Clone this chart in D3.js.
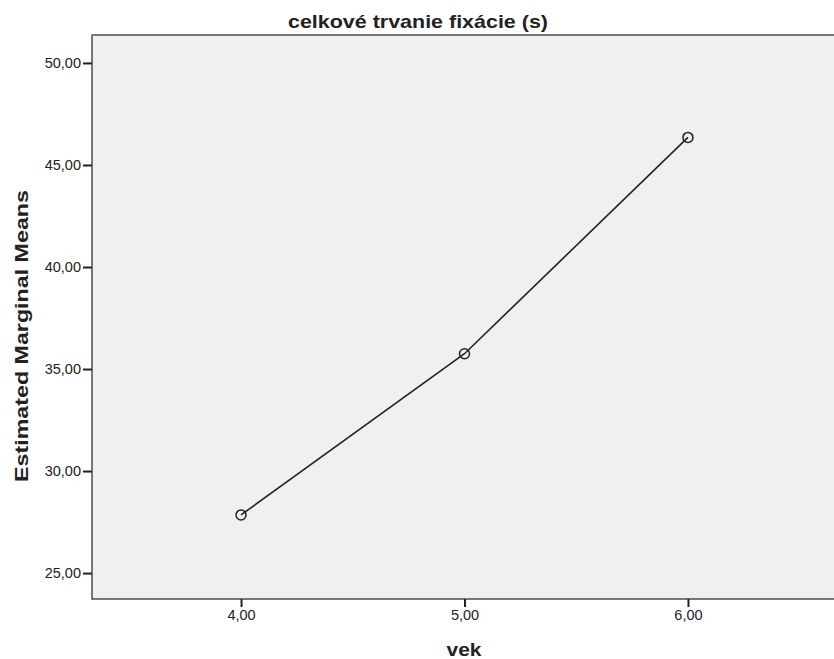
<!DOCTYPE html>
<html>
<head>
<meta charset="utf-8">
<script src="https://cdn.jsdelivr.net/npm/d3@7"></script>
<style>
  body { margin: 0; background: #fff; }
  text { font-family: "Liberation Sans", Arial, sans-serif; fill: #222; }
</style>
</head>
<body>
<svg id="chart" width="834" height="659"></svg>
<script>
// data
const ages = [4, 5, 6];
const means = [27.85, 35.75, 46.35];
const yTicks = [25, 30, 35, 40, 45, 50];

const svg = d3.select("#chart");
const margin = { left: 92, top: 35, right: -3, bottom: 60 };
const W = 834, H = 659;

const x = d3.scaleLinear().domain([3.333, 6.667]).range([margin.left, W - margin.right]);
const y = d3.scaleLinear().domain([23.73, 51.37]).range([H - margin.bottom, margin.top]);
const fmt = d => d3.format(".2f")(d).replace(".", ",");

// plot background
svg.append("rect")
  .attr("x", margin.left).attr("y", margin.top)
  .attr("width", W - margin.right - margin.left)
  .attr("height", H - margin.bottom - margin.top)
  .attr("fill", "#f0f0f0")
  .attr("stroke", "#222").attr("stroke-width", 1.2);
svg.append("line")
  .attr("x1", margin.left).attr("x2", W)
  .attr("y1", margin.top).attr("y2", margin.top)
  .attr("stroke", "#777").attr("stroke-width", 2);

// axes
const yAxis = svg.append("g")
  .attr("transform", `translate(${margin.left},0)`)
  .call(d3.axisLeft(y).tickValues(yTicks).tickFormat(fmt).tickSize(9).tickPadding(2));
const xAxis = svg.append("g")
  .attr("transform", `translate(0,${H - margin.bottom})`)
  .call(d3.axisBottom(x).tickValues(ages).tickFormat(fmt).tickSize(8).tickPadding(3));
[yAxis, xAxis].forEach(g => {
  g.select(".domain").remove();
  g.selectAll(".tick line").attr("stroke", "#222").attr("stroke-width", 2);
  g.selectAll(".tick text").attr("font-size", 14.5).style("fill", "#222");
});

// line + markers
svg.append("path")
  .datum(ages.map((a, i) => [a, means[i]]))
  .attr("fill", "none").attr("stroke", "#222").attr("stroke-width", 1.6)
  .attr("d", d3.line().x(d => x(d[0])).y(d => y(d[1])));
svg.selectAll(".pt")
  .data(ages.map((a, i) => [a, means[i]]))
  .enter().append("circle")
  .attr("class", "pt")
  .attr("cx", d => x(d[0])).attr("cy", d => y(d[1])).attr("r", 5)
  .attr("fill", "none").attr("stroke", "#222").attr("stroke-width", 1.5);

// titles (glyphs stretched a bit, SPSS fonts run wide)
svg.append("text").attr("x", 418).attr("y", 28).attr("text-anchor", "middle")
  .attr("font-size", 19).attr("font-weight", "bold")
  .attr("textLength", 260).attr("lengthAdjust", "spacingAndGlyphs")
  .text("celkové trvanie fixácie (s)");
svg.append("text").attr("x", 464).attr("y", 656).attr("text-anchor", "middle")
  .attr("font-size", 19).attr("font-weight", "bold")
  .attr("textLength", 35).attr("lengthAdjust", "spacingAndGlyphs")
  .text("vek");
svg.append("text")
  .attr("transform", "translate(28,336) rotate(-90)")
  .attr("text-anchor", "middle")
  .attr("font-size", 18).attr("font-weight", "bold")
  .attr("textLength", 292).attr("lengthAdjust", "spacingAndGlyphs")
  .text("Estimated Marginal Means");
</script>
</body>
</html>
